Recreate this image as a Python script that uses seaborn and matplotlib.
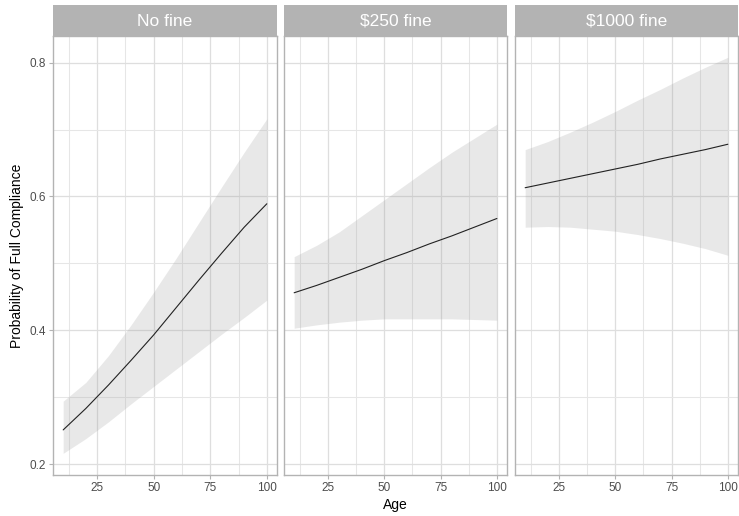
import numpy as np
import pandas as pd
import seaborn as sns
import matplotlib.pyplot as plt
from matplotlib.ticker import MultipleLocator

ages = [10, 20, 30, 40, 50, 60, 70, 80, 90, 100]
fines = ["No fine", "$250 fine", "$1000 fine"]

fit_none = [0.251, 0.283, 0.318, 0.355, 0.393, 0.434, 0.475, 0.515, 0.554, 0.589]
low_none = [0.216, 0.238, 0.263, 0.290, 0.316, 0.342, 0.368, 0.394, 0.419, 0.445]
upp_none = [0.294, 0.322, 0.362, 0.408, 0.457, 0.508, 0.561, 0.614, 0.666, 0.716]

fit_250 = [0.456, 0.467, 0.479, 0.491, 0.504, 0.516, 0.529, 0.541, 0.554, 0.567]
low_250 = [0.403, 0.408, 0.412, 0.415, 0.417, 0.417, 0.417, 0.417, 0.416, 0.415]
upp_250 = [0.510, 0.527, 0.547, 0.571, 0.595, 0.619, 0.643, 0.666, 0.687, 0.708]

fit_1000 = [0.613, 0.620, 0.627, 0.634, 0.641, 0.648, 0.656, 0.663, 0.670, 0.678]
low_1000 = [0.554, 0.555, 0.554, 0.551, 0.548, 0.543, 0.537, 0.530, 0.522, 0.512]
upp_1000 = [0.670, 0.682, 0.696, 0.711, 0.727, 0.744, 0.760, 0.777, 0.793, 0.808]

df = pd.concat([
    pd.DataFrame({"fine": f, "age": ages, "prob": p, "lower": lo, "upper": up})
    for f, p, lo, up in [
        (fines[0], fit_none, low_none, upp_none),
        (fines[1], fit_250, low_250, upp_250),
        (fines[2], fit_1000, low_1000, upp_1000),
    ]
])

sns.set_theme(style="white")
plt.rcParams["font.family"] = ["Liberation Sans", "DejaVu Sans"]

W, H = 739, 516
fig = plt.figure(figsize=(W / 100, H / 100), dpi=100)

panel_x = [(53, 277), (284, 507), (515, 738)]
top, bottom, strip_top = 36, 475, 5

for i, (fine, (x0, x1)) in enumerate(zip(fines, panel_x)):
    ax = fig.add_axes([x0 / W, (H - bottom) / H, (x1 - x0) / W, (bottom - top) / H])
    sub = df[df.fine == fine]
    ax.fill_between(sub.age, sub.lower, sub.upper, color="#999999", alpha=0.22, lw=0, zorder=2)
    sns.lineplot(data=sub, x="age", y="prob", ax=ax, color="#222222", lw=0.8, zorder=3)

    ax.set_xlim(5.5, 104.5)
    ax.set_ylim(0.1836, 0.8398)
    ax.xaxis.set_major_locator(MultipleLocator(25))
    ax.xaxis.set_minor_locator(MultipleLocator(12.5))
    ax.yaxis.set_major_locator(MultipleLocator(0.2))
    ax.yaxis.set_minor_locator(MultipleLocator(0.1))
    ax.grid(which="major", color="#DEDEDE", lw=0.9, zorder=0)
    ax.grid(which="minor", color="#E6E6E6", lw=0.75, zorder=0)
    ax.set_axisbelow(True)
    for s in ax.spines.values():
        s.set_color("#B3B3B3")
        s.set_linewidth(1.0)
    ax.tick_params(which="major", length=3, width=0.8, color="#B3B3B3",
                   labelsize=8.5, labelcolor="#4D4D4D", pad=2)
    ax.tick_params(which="minor", length=0)
    ax.tick_params(axis="x", bottom=True)
    ax.tick_params(axis="y", left=(i == 0), labelleft=(i == 0))
    ax.set_xticks([25, 50, 75, 100])
    ax.set_xticklabels(["25", "50", "75", "100"])
    if i == 0:
        ax.set_yticks([0.2, 0.4, 0.6, 0.8])
        ax.set_yticklabels(["0.2", "0.4", "0.6", "0.8"])
        ax.set_ylabel("Probability of Full Compliance", fontsize=10, color="black", labelpad=4)
    else:
        ax.set_ylabel("")
    ax.set_xlabel("")

    sax = fig.add_axes([x0 / W, (H - top) / H, (x1 - x0) / W, (top - strip_top) / H])
    sax.set_facecolor("#B3B3B3")
    for s in sax.spines.values():
        s.set_visible(False)
    sax.set_xticks([])
    sax.set_yticks([])
    sax.text(0.5, 0.47, fine, ha="center", va="center", color="white", fontsize=12.5,
             transform=sax.transAxes)

fig.text((53 + 738) / 2 / W, 1 - 505 / H, "Age", ha="center", va="center", fontsize=10, color="black")

fig.savefig("out.png", dpi=100, facecolor="white")
